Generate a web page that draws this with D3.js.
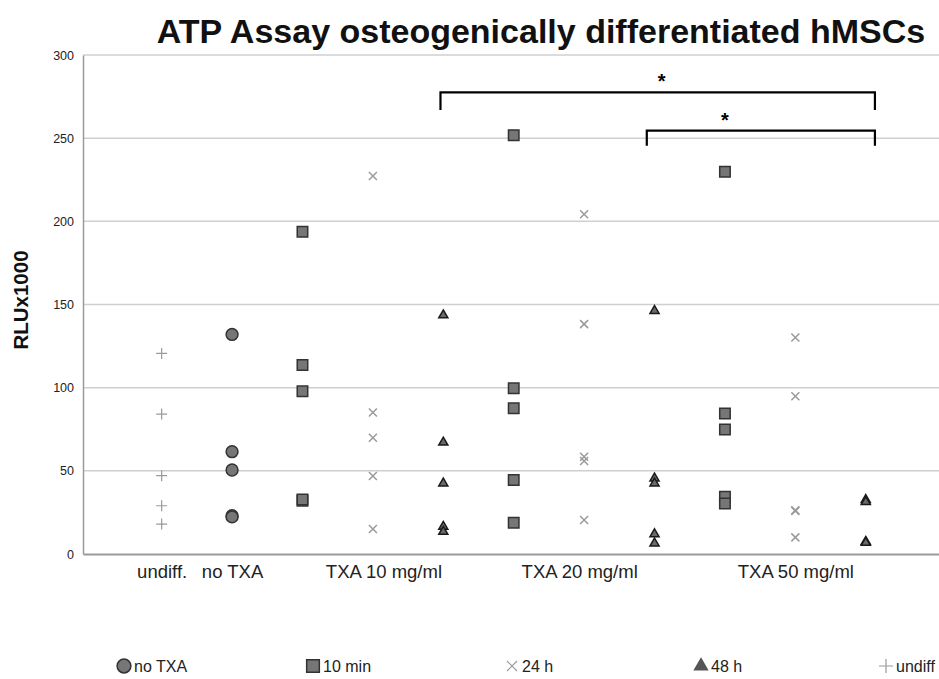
<!DOCTYPE html>
<html><head><meta charset="utf-8">
<script src="https://cdn.jsdelivr.net/npm/d3@7"></script>
<style>html,body{margin:0;padding:0;background:#fff;}svg{display:block;font-family:"Liberation Sans",Arial,sans-serif;}</style>
</head><body>
<svg id="chart" width="939" height="679"></svg>
<script>
// ---- data ----
const title = "ATP Assay osteogenically differentiated hMSCs";
const yTitle = "RLUx1000";
const yTicks = [0, 50, 100, 150, 200, 250, 300];
const categoryLabels = ["undiff.", "no TXA", "TXA 10 mg/ml", "TXA 20 mg/ml", "TXA 50 mg/ml"];
const categoryPos = [0, 1, 3.15, 5.93, 9.0];
const seriesNames = ["no TXA", "10 min", "24 h", "48 h", "undiff"];
const undiffVals = [120.6, 84.1, 47.1, 29.0, 18.0];
const noTxaVals = [132.0, 61.5, 50.5, 23.0, 22.3];
const min10_TXA10 = [193.7, 113.6, 97.8, 32.0, 32.8];
const h24_TXA10 = [227.3, 85.1, 69.9, 46.9, 15.0];
const h48_TXA10 = [143.6, 67.1, 42.5, 16.4, 13.4];
const min10_TXA20 = [251.8, 99.6, 87.6, 44.5, 18.8];
const h24_TXA20 = [204.3, 138.2, 58.5, 55.9, 20.4];
const h48_TXA20 = [146.2, 45.5, 42.5, 12.0, 6.4];
const min10_TXA50 = [229.8, 84.5, 74.9, 34.4, 30.4];
const h24_TXA50 = [130.2, 94.8, 26.3, 25.8, 10.0];
const h48_TXA50 = [32.6, 31.4, 7.4, 6.8];
// significance brackets (columns / values)
const brackets = [
  {from: 3.96, to: 10.13, bar: 277.5, end: 267.0, label: "*", labelAt: 7.1},
  {from: 6.89, to: 10.13, bar: 254.5, end: 245.5, label: "*", labelAt: 8.0}
];

const groups = [
  {col: 0, series: "undiff", vals: undiffVals},
  {col: 1, series: "no TXA", vals: noTxaVals},
  {col: 2, series: "10 min", vals: min10_TXA10},
  {col: 3, series: "24 h", vals: h24_TXA10},
  {col: 4, series: "48 h", vals: h48_TXA10},
  {col: 5, series: "10 min", vals: min10_TXA20},
  {col: 6, series: "24 h", vals: h24_TXA20},
  {col: 7, series: "48 h", vals: h48_TXA20},
  {col: 8, series: "10 min", vals: min10_TXA50},
  {col: 9, series: "24 h", vals: h24_TXA50},
  {col: 10, series: "48 h", vals: h48_TXA50}
];
const points = groups.flatMap(g => g.vals.map(v => ({col: g.col, series: g.series, v})));

// ---- layout ----
const svg = d3.select("#chart");
const plotL = 83, plotR = 939, plotT = 55, plotB = 554;
const x = d3.scaleLinear().domain([-1.117, 11.04]).range([plotL, plotR]);
const y = d3.scaleLinear().domain([0, 300]).range([plotB, plotT]);

// gridlines
svg.append("g").selectAll("line").data(yTicks.filter(d => d > 0)).join("line")
  .attr("x1", plotL).attr("x2", plotR)
  .attr("y1", d => y(d)).attr("y2", d => y(d))
  .attr("stroke", "#cfcfcf").attr("stroke-width", 1.5);

// y axis
const yAxis = d3.axisLeft(y).tickValues(yTicks).tickSize(0).tickPadding(9);
const gy = svg.append("g").attr("transform", `translate(${plotL},0)`).call(yAxis);
gy.select(".domain").attr("stroke", "#9a9a9a").attr("stroke-width", 1.5);
gy.selectAll("text").attr("font-size", 12.5).attr("fill", "#222")
  .attr("font-family", "'Liberation Sans', Arial, sans-serif");

// x axis
const xAxis = d3.axisBottom(x).tickValues(categoryPos).tickFormat((d, i) => categoryLabels[i]).tickSize(0).tickPadding(11);
const gx = svg.append("g").attr("transform", `translate(0,${plotB})`).call(xAxis);
gx.select(".domain").attr("stroke", "#9a9a9a").attr("stroke-width", 2);
gx.selectAll("text").attr("font-size", 18.5).attr("fill", "#222")
  .attr("font-family", "'Liberation Sans', Arial, sans-serif");

// y title
svg.append("text").attr("transform", `translate(28,300) rotate(-90)`)
  .attr("text-anchor", "middle").attr("font-size", 20.5).attr("font-weight", "bold").attr("fill", "#111")
  .text(yTitle);

// title
svg.append("text").attr("x", 541).attr("y", 43).attr("text-anchor", "middle")
  .attr("font-size", 34).attr("font-weight", "bold").attr("fill", "#111").text(title);

// marker drawing
const sym = {
  "no TXA": {type: d3.symbolCircle, size: 110, fill: "#767676", stroke: "#333", sw: 1.5},
  "10 min": {type: d3.symbolSquare, size: 110, fill: "#767676", stroke: "#333", sw: 1.5},
  "24 h": {type: d3.symbolX, size: 40, fill: "none", stroke: "#9a9a9a", sw: 1.5},
  "48 h": {type: d3.symbolTriangle, size: 36, fill: "#6a6a6a", stroke: "#1a1a1a", sw: 1.5},
  "undiff": {type: d3.symbolPlus, size: 70, fill: "none", stroke: "#9a9a9a", sw: 1.2}
};
function drawSym(sel, s) {
  const st = sym[s];
  if (s === "24 h" || s === "undiff") {
    const h = s === "24 h" ? 4 : 5.5;
    const path = s === "24 h"
      ? `M${-h},${-h}L${h},${h}M${-h},${h}L${h},${-h}`
      : `M${-h},0L${h},0M0,${-h}L0,${h}`;
    sel.attr("d", path);
  } else {
    sel.attr("d", d3.symbol().type(st.type).size(st.size)());
  }
  sel.attr("fill", st.fill).attr("stroke", st.stroke).attr("stroke-width", st.sw);
}

svg.append("g").selectAll("path").data(points).join("path")
  .attr("transform", d => `translate(${x(d.col)},${y(d.v)})`)
  .each(function(d) { drawSym(d3.select(this), d.series); });

// brackets
const bg = svg.append("g");
brackets.forEach(b => {
  bg.append("path")
    .attr("d", `M${x(b.from)},${y(b.end)}V${y(b.bar)}H${x(b.to)}V${y(b.end)}`)
    .attr("fill", "none").attr("stroke", "#000").attr("stroke-width", 2.2);
  bg.append("text").attr("x", x(b.labelAt)).attr("y", y(b.bar) - 4)
    .attr("text-anchor", "middle").attr("font-size", 20).attr("font-weight", "bold").text(b.label);
});

// legend
const legendX = [124, 313, 512, 701, 886];
const lg = svg.append("g").attr("transform", "translate(0,666)");
seriesNames.forEach((s, i) => {
  const item = lg.append("g").attr("transform", `translate(${legendX[i]},0)`);
  const p = item.append("path");
  drawSym(p, s);
  if (s === "no TXA") p.attr("d", d3.symbol().type(d3.symbolCircle).size(150)());
  if (s === "10 min") p.attr("d", d3.symbol().type(d3.symbolSquare).size(160)());
  if (s === "48 h") p.attr("d", d3.symbol().type(d3.symbolTriangle).size(70)()).attr("stroke", "#555").attr("fill", "#555");
  if (s === "24 h") p.attr("d", "M-5,-5L5,5M-5,5L5,-5").attr("stroke-width", 1.2);
  if (s === "undiff") p.attr("d", "M-7,0L7,0M0,-7L0,7").attr("stroke-width", 1.2);
  item.append("text").attr("x", 10).attr("y", 6).attr("font-size", 16).attr("fill", "#222").text(s);
});
</script>
</body></html>
